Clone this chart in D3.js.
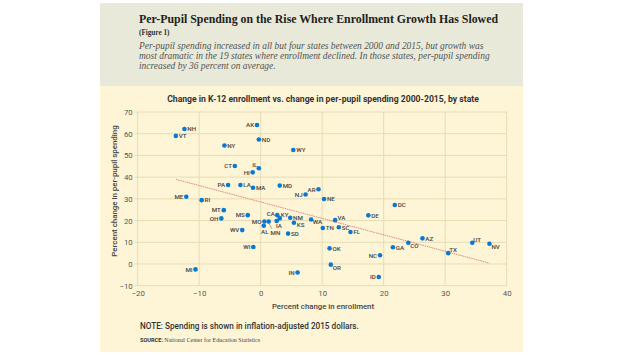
<!DOCTYPE html>
<html><head><meta charset="utf-8">
<script src="https://cdn.jsdelivr.net/npm/d3@7"></script>
<style>
html,body{margin:0;padding:0;background:#fff;}
svg{display:block;}
</style></head>
<body>
<svg id="chart" width="624" height="356"></svg>
<script>
// ---- data ----
const states = ["NH","VT","AK","ND","NY","WY","CT","IL","HI","PA","LA","MA","MD","NJ","AR","ME","RI","MT","MS","NE","DC","DE","OH","WV","WI","MI","IN","MO","MN","AL","CA","IA","KY","NM","KS","SD","WA","TN","VA","SC","FL","AZ","CO","GA","OK","NC","OR","ID","TX","UT","NV"];
const enrollChange = [-12.4,-13.8,-0.6,-0.3,-5.9,5.3,-4.2,-0.3,-1.3,-5.3,-3.3,-1.25,3.1,7.3,9.4,-12.1,-9.6,-6.0,-2.1,10.3,21.8,17.5,-6.4,-3.0,-1.2,-10.6,6.0,0.6,1.3,0.5,2.7,2.6,3.1,4.8,5.4,4.45,8.2,10.1,12.1,12.7,14.6,26.3,24.0,21.5,11.2,19.4,11.4,19.2,30.5,34.4,37.2];
const spendChange = [62.2,59.0,64.0,57.3,54.6,52.5,45.1,44.1,42.2,36.4,36.4,35.1,36.1,32.0,34.4,31.0,29.4,24.8,22.5,29.9,27.2,22.4,21.0,15.6,7.8,-2.5,-3.9,19.6,19.6,17.6,22.5,19.8,21.0,21.3,19.0,14.0,20.5,16.6,20.2,16.9,14.7,11.8,9.8,7.7,7.2,4.0,-0.3,-6.0,5.0,9.8,9.3];
// label placement code relative to its dot (see offsets below)
const labelPos = ["r","r","l","r","r","r","l","a","l","l","r","r","r","l","l","l","r","l","l","r","r","r","l","l","l","l","l","l","m","b","c","i","k","r","s","r","w","r","v","r","r","r","d","r","r","l","d","l","u","u","d"];
const trendX = [-13.8, 37.2];
const trendY = [39.0, 0.4];
const xTicks = [-20,-10,0,10,20,30,40];
const yTicks = [-10,0,10,20,30,40,50,60,70];

const titleText = "Per-Pupil Spending on the Rise Where Enrollment Growth Has Slowed";
const figText = "(Figure 1)";
const subLines = ["Per-pupil spending increased in all but four states between 2000 and 2015, but growth was",
  "most dramatic in the 19 states where enrollment declined. In those states, per-pupil spending",
  "increased by 36 percent on average."];
const chartTitle = "Change in K-12 enrollment vs. change in per-pupil spending 2000-2015, by state";
const xTitle = "Percent change in enrollment";
const yTitle = "Percent change in per-pupil spending";
const noteText = "NOTE: Spending is shown in inflation-adjusted 2015 dollars.";

// ---- drawing ----
const svg = d3.select("#chart");
svg.append("rect").attr("x",0).attr("y",0).attr("width",624).attr("height",356).attr("fill","#ffffff");
svg.append("rect").attr("x",100).attr("y",85).attr("width",423).attr("height",267).attr("fill","#fef5d7");
svg.append("rect").attr("x",100).attr("y",3).attr("width",423).attr("height",83).attr("fill","#e8e9d8");

svg.append("text").attr("x",139).attr("y",22.5)
  .attr("font-family","Liberation Serif, serif").attr("font-weight","bold").attr("font-size",13.4)
  .attr("textLength",359).attr("lengthAdjust","spacingAndGlyphs")
  .attr("fill","#222").text(titleText);
svg.append("text").attr("x",139).attr("y",35)
  .attr("font-family","Liberation Serif, serif").attr("font-weight","bold").attr("font-size",7.2)
  .attr("fill","#333").text(figText);
svg.selectAll("text.sub").data(subLines).enter().append("text").attr("class","sub")
  .attr("x",139).attr("y",(d,i)=>49+i*10.2)
  .attr("font-family","Liberation Serif, serif").attr("font-style","italic").attr("font-size",9.45)
  .attr("fill","#555").text(d=>d);

const L = 137.7, R = 506.7, T = 112, B = 285.7;
const x = d3.scaleLinear().domain([-20,40]).range([L,R]);
const y = d3.scaleLinear().domain([-10,70]).range([B,T]);

// grid
const g = svg.append("g");
g.selectAll("line.gx").data(xTicks).enter().append("line")
  .attr("x1",d=>x(d)).attr("x2",d=>x(d)).attr("y1",T).attr("y2",B)
  .attr("stroke","#e6dcb5").attr("stroke-width",1);
g.selectAll("line.gy").data(yTicks).enter().append("line")
  .attr("x1",L-3).attr("x2",R).attr("y1",d=>y(d)).attr("y2",d=>y(d))
  .attr("stroke","#e6dcb5").attr("stroke-width",1);

// axes labels via d3 axes
const yAxis = d3.axisLeft(y).tickValues(yTicks).tickSize(0).tickPadding(5);
const ya = svg.append("g").attr("transform",`translate(${L},0)`).call(yAxis);
ya.select(".domain").remove();
ya.selectAll("text").attr("font-family","Roboto, sans-serif").attr("font-size",7.8).attr("fill","#555");
const xAxis = d3.axisBottom(x).tickValues(xTicks).tickSize(0).tickPadding(5);
const xa = svg.append("g").attr("transform",`translate(0,${B})`).call(xAxis);
xa.select(".domain").remove();
xa.selectAll("text").attr("font-family","Roboto, sans-serif").attr("font-size",7.8).attr("fill","#555");

// chart title & axis titles
svg.append("text").attr("x",323).attr("y",101.5).attr("text-anchor","middle")
  .attr("font-family","Roboto, sans-serif").attr("font-weight","bold").attr("font-size",8.65)
  .attr("fill","#333").text(chartTitle);
svg.append("text").attr("x",323).attr("y",309).attr("text-anchor","middle")
  .attr("font-family","Roboto, sans-serif").attr("font-weight","500").attr("font-size",7.8)
  .attr("fill","#444").text(xTitle);
svg.append("text").attr("transform","translate(117,191) rotate(-90)").attr("text-anchor","middle")
  .attr("font-family","Roboto, sans-serif").attr("font-weight","500").attr("font-size",7.9)
  .attr("fill","#444").text(yTitle);

// trend line
svg.append("line").attr("x1",x(trendX[0])).attr("y1",y(trendY[0]))
  .attr("x2",x(trendX[1])).attr("y2",y(trendY[1]))
  .attr("stroke","#e07a6a").attr("stroke-width",0.9).attr("stroke-dasharray","1.5,0.8");

// points
const pts = states.map((s,i)=>({s, x:enrollChange[i], y:spendChange[i], p:labelPos[i]}));
svg.selectAll("circle.pt").data(pts).enter().append("circle")
  .attr("cx",d=>x(d.x)).attr("cy",d=>y(d.y)).attr("r",2.3).attr("fill","#0a78d2");

const off = {
  r:[2.9,2.3,"start"], l:[-2.9,2.3,"end"], a:[-1.5,-1,"end"], k:[1,-1.8,"start"],
  c:[-2.5,0.6,"end"], i:[-0.7,7.0,"start"], m:[1.8,14,"start"], b:[1,7.8,"middle"],
  w:[1.5,4.5,"start"], v:[2.3,-0.2,"start"], u:[1,-1,"start"], d:[2,5,"start"],
  s:[2.9,3.8,"start"]
};
svg.selectAll("text.lbl").data(pts).enter().append("text")
  .attr("x",d=>x(d.x)+off[d.p][0]).attr("y",d=>y(d.y)+off[d.p][1])
  .attr("text-anchor",d=>off[d.p][2])
  .attr("font-family","Roboto, sans-serif").attr("font-weight","500").attr("font-size",6.2)
  .attr("fill","#444").text(d=>d.s);
// leader line for MN
svg.selectAll("line.lead").data(pts.filter(d=>d.p==="m")).enter().append("line")
  .attr("x1",d=>x(d.x)).attr("y1",d=>y(d.y)+1.5).attr("x2",d=>x(d.x)+3.3).attr("y2",d=>y(d.y)+7.5)
  .attr("stroke","#555").attr("stroke-width",0.5);

// note & source
svg.append("text").attr("x",140).attr("y",328.5)
  .attr("font-family","Roboto, sans-serif").attr("font-weight","500").attr("font-size",8.2)
  .attr("fill","#333").text(noteText);
const src = svg.append("text").attr("x",140).attr("y",342);
src.append("tspan").attr("font-family","Roboto, sans-serif").attr("font-weight","bold").attr("font-size",5.6).attr("fill","#333").text("SOURCE: ");
src.append("tspan").attr("font-family","Liberation Serif, serif").attr("font-size",6).attr("fill","#444").text("National Center for Education Statistics");
</script>
</body></html>
